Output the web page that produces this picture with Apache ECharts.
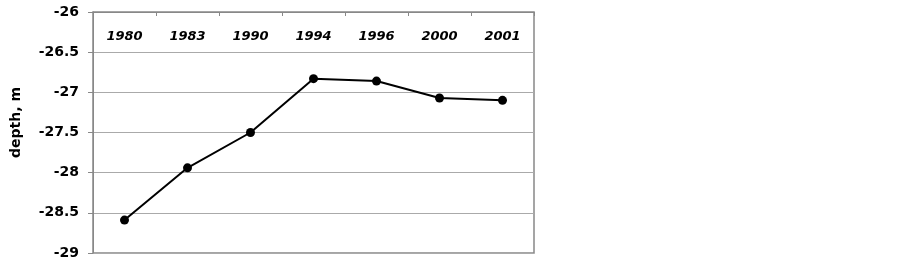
<!DOCTYPE html>
<html><head><meta charset="utf-8">
<script src="https://cdn.jsdelivr.net/npm/echarts@6/dist/echarts.min.js"></script>
<style>html,body{margin:0;padding:0;background:#fff}#c{width:902px;height:264px}</style>
</head><body><div id="c"></div>
<script>
const categories = ['1980','1983','1990','1994','1996','2000','2001'];
const depth = [-28.59, -27.94, -27.5, -26.83, -26.86, -27.07, -27.10];
const yName = 'depth, m';

const chart = echarts.init(document.getElementById('c'));
chart.setOption({
  animation: false,
  grid: {left: 93, top: 12, width: 441, height: 241, show: true, borderColor: '#888', borderWidth: 1.5, backgroundColor: 'transparent'},
  xAxis: {
    type: 'category', data: categories, position: 'top', boundaryGap: true,
    axisLine: {show: true, lineStyle: {color: '#888', width: 1}},
    axisTick: {show: true, inside: true, length: 4, lineStyle: {color: '#888'}},
    axisLabel: {inside: true, margin: 18, color: '#000', fontFamily: 'DejaVu Sans', fontSize: 13, fontWeight: 'bold', fontStyle: 'italic'},
    splitLine: {show: false}
  },
  yAxis: {
    type: 'value', min: -29, max: -26, interval: 0.5,
    name: yName, nameLocation: 'middle', nameGap: 70, nameRotate: 90,
    nameTextStyle: {color: '#000', fontFamily: 'DejaVu Sans', fontSize: 14, fontWeight: 'bold', padding: [0, 0, 0, 20]},
    axisLine: {show: true, lineStyle: {color: '#888', width: 1}},
    axisTick: {show: true, length: 5, lineStyle: {color: '#888'}},
    axisLabel: {margin: 14, color: '#000', fontFamily: 'DejaVu Sans', fontSize: 14, fontWeight: 'bold'},
    splitLine: {show: true, lineStyle: {color: '#aaa', width: 1.2}}
  },
  series: [{
    type: 'line', data: depth, symbol: 'circle', symbolSize: 9,
    lineStyle: {color: '#000', width: 2}, itemStyle: {color: '#000'}
  }]
});
</script></body></html>
